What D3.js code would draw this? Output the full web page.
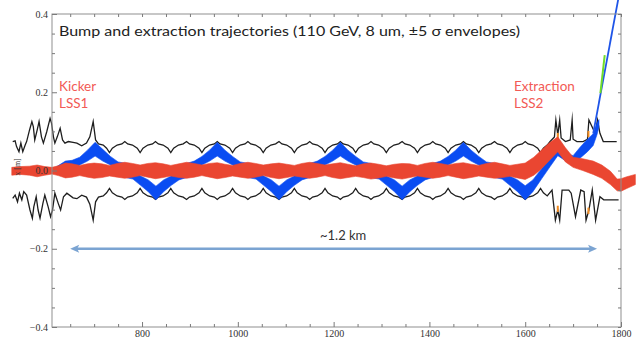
<!DOCTYPE html>
<html>
<head>
<meta charset="utf-8">
<script src="https://cdn.jsdelivr.net/npm/d3@7"></script>
<style>
  body { margin: 0; background: #fff; }
  svg { display: block; }
</style>
</head>
<body>
<svg id="chart" width="637" height="343"></svg>
<script>
// ---- data (s in m, x in m) ----
const xTicks = [800, 1000, 1200, 1400, 1600, 1800];
const xMinor = [650, 700, 750, 850, 900, 950, 1050, 1100, 1150, 1250, 1300, 1350, 1450, 1500, 1550, 1650, 1700, 1750];
const yTicks = [-0.4, -0.2, 0, 0.2, 0.4];
const yMinor = [-0.35, -0.3, -0.25, -0.15, -0.1, -0.05, 0.05, 0.1, 0.15, 0.25, 0.3, 0.35];

// upper black line
const apertureTop = [
  [530,.074],[535,.076],[538,.061],[543,.048],[547,.070],[551,.048],[556,.065],[559,.074],[565,.103],[570,.125],
  [573,.112],[576,.078],[581,.103],[585,.125],[590,.086],[594,.070],[601,.099],[608,.133],[611,.121],[615,.086],
  [618,.070],[623,.086],[629,.108],[634,.078],[639,.070],[646,.074],[656,.072],[664,.070],[674,.063],[684,.070],
  [691,.086],[698,.125],[703,.078],[709,.068],[719,.065],[726,.057],[732,.046],[738,.057],[748,.065],[758,.068],
  [764,.074],[770,.068],[780,.065],[790,.057],[796,.046],[802,.057],[812,.065],[822,.068],
  [828,.074],[834,.068],[844,.065],[854,.057],[860,.046],[866,.057],[876,.065],[886,.068],
  [893,.074],[899,.068],[909,.065],[919,.057],[925,.046],[931,.057],[941,.065],[951,.068],
  [957,.074],[963,.068],[973,.065],[983,.057],[989,.046],[995,.057],[1005,.065],[1015,.068],
  [1021,.074],[1027,.068],[1037,.065],[1047,.057],[1053,.046],[1059,.057],[1069,.065],[1079,.068],
  [1086,.074],[1092,.068],[1102,.065],[1112,.057],[1118,.046],[1124,.057],[1134,.065],[1144,.068],
  [1150,.074],[1156,.068],[1166,.065],[1176,.057],[1182,.046],[1188,.057],[1198,.065],[1208,.068],
  [1214,.074],[1220,.068],[1230,.065],[1240,.057],[1246,.046],[1252,.057],[1262,.065],[1272,.068],
  [1278,.074],[1284,.068],[1294,.065],[1304,.057],[1310,.046],[1316,.057],[1326,.065],[1336,.068],
  [1343,.074],[1349,.068],[1359,.065],[1369,.057],[1375,.046],[1381,.057],[1391,.065],[1401,.068],
  [1407,.074],[1413,.068],[1423,.065],[1433,.057],[1439,.046],[1445,.057],[1455,.065],[1465,.068],
  [1471,.074],[1477,.068],[1487,.065],[1497,.057],[1503,.046],[1509,.057],[1519,.065],[1529,.068],
  [1536,.074],[1542,.068],[1552,.065],[1562,.057],[1568,.046],[1574,.057],[1584,.065],[1594,.068],
  [1600,.074],[1606,.068],[1616,.065],[1626,.057],[1632,.046],[1638,.057],[1646,.065],
  [1652,.074],[1661,.086],[1664,.129],[1668,.091],[1672,.129],[1675,.083],[1684,.074],[1694,.078],[1698,.129],
  [1700,.080],[1708,.074],[1721,.074],[1730,.080],[1733,.129],[1746,.095],[1751,.129],[1756,.095],[1763,.074],[1791,.074]
];

// lower black line
const apertureBottom = [
  [530,-.071],[535,-.063],[540,-.080],[544,-.058],[549,-.075],[553,-.054],[559,-.063],[566,-.101],[571,-.122],
  [574,-.093],[579,-.067],[583,-.101],[587,-.122],[593,-.084],[597,-.063],[604,-.093],[609,-.118],[613,-.101],
  [618,-.058],[625,-.084],[630,-.101],[636,-.067],[643,-.058],[656,-.070],[664,-.072],[674,-.063],[684,-.068],
  [691,-.086],[698,-.127],[703,-.080],[709,-.068],[719,-.065],[726,-.057],[732,-.046],[738,-.057],[748,-.065],[758,-.068],
  [764,-.074],[770,-.068],[780,-.065],[790,-.057],[796,-.046],[802,-.057],[812,-.065],[822,-.068],
  [828,-.074],[834,-.068],[844,-.065],[854,-.057],[860,-.046],[866,-.057],[876,-.065],[886,-.068],
  [893,-.074],[899,-.068],[909,-.065],[919,-.057],[925,-.046],[931,-.057],[941,-.065],[951,-.068],
  [957,-.074],[963,-.068],[973,-.065],[983,-.057],[989,-.046],[995,-.057],[1005,-.065],[1015,-.068],
  [1021,-.074],[1027,-.068],[1037,-.065],[1047,-.057],[1053,-.046],[1059,-.057],[1069,-.065],[1079,-.068],
  [1086,-.074],[1092,-.068],[1102,-.065],[1112,-.057],[1118,-.046],[1124,-.057],[1134,-.065],[1144,-.068],
  [1150,-.074],[1156,-.068],[1166,-.065],[1176,-.057],[1182,-.046],[1188,-.057],[1198,-.065],[1208,-.068],
  [1214,-.074],[1220,-.068],[1230,-.065],[1240,-.057],[1246,-.046],[1252,-.057],[1262,-.065],[1272,-.068],
  [1278,-.074],[1284,-.068],[1294,-.065],[1304,-.057],[1310,-.046],[1316,-.057],[1326,-.065],[1336,-.068],
  [1343,-.074],[1349,-.068],[1359,-.065],[1369,-.057],[1375,-.046],[1381,-.057],[1391,-.065],[1401,-.068],
  [1407,-.074],[1413,-.068],[1423,-.065],[1433,-.057],[1439,-.046],[1445,-.057],[1455,-.065],[1465,-.068],
  [1471,-.074],[1477,-.068],[1487,-.065],[1497,-.057],[1503,-.046],[1509,-.057],[1519,-.065],[1529,-.068],
  [1536,-.074],[1542,-.068],[1552,-.065],[1562,-.057],[1568,-.046],[1574,-.057],[1584,-.065],[1594,-.068],
  [1600,-.074],[1606,-.068],[1616,-.065],[1626,-.057],[1632,-.046],[1638,-.057],[1646,-.065],
  [1656,-.050],[1663,-.127],[1668,-.101],[1672,-.127],[1677,-.050],[1691,-.050],[1696,-.058],[1705,-.118],
  [1716,-.050],[1723,-.054],[1727,-.127],[1733,-.101],[1740,-.050],[1747,-.127],[1756,-.067],[1764,-.075],[1795,-.075]
];

// bumped beam envelope [s, low, high]
const bumpBand = [
  [622,-.010,.010],[640,-.004,.024],[654,-.002,.026],[670,.014,.034],[686,.024,.052],[702,.037,.072],
  [718,.024,.054],[734,.014,.036],[750,-.004,.022],[766,-.018,.018],
  [781,-.022,.004],[797,-.038,-.014],[813,-.054,-.024],[829,-.075,-.040],[845,-.054,-.024],[861,-.038,-.014],[877,-.024,.004],[893,-.018,.018],
  [909,-.004,.024],[925,.014,.036],[941,.024,.052],[957,.037,.072],[973,.024,.052],[989,.014,.036],[1005,-.004,.022],[1021,-.018,.018],
  [1038,-.022,.004],[1054,-.038,-.014],[1070,-.054,-.024],[1086,-.075,-.040],[1102,-.054,-.024],[1118,-.038,-.014],[1134,-.024,.004],[1150,-.018,.018],
  [1166,-.004,.024],[1182,.014,.036],[1198,.024,.052],[1214,.037,.072],[1230,.024,.052],[1246,.014,.036],[1262,-.004,.022],[1278,-.018,.018],
  [1295,-.022,.004],[1311,-.038,-.014],[1327,-.054,-.024],[1343,-.075,-.040],[1359,-.054,-.024],[1375,-.038,-.014],[1391,-.024,.004],[1407,-.018,.018],
  [1423,-.004,.024],[1439,.014,.036],[1455,.024,.052],[1471,.037,.072],[1487,.024,.052],[1503,.014,.036],[1519,-.004,.022],[1536,-.018,.018],
  [1552,-.022,.004],[1568,-.038,-.014],[1584,-.054,-.024],[1600,-.075,-.039],
  [1616,-.054,-.024],[1635,-.020,.006],[1652,.010,.034],[1668,.038,.056],[1685,.024,.044],[1700,.018,.038],
  [1715,.032,.060],[1730,.048,.080],[1742,.064,.094],[1750,.092,.122],[1754,.112,.130]
];

// extracted trajectory (thin line)
const extractionLine = [[1742,.095],[1797,.456]];
// septum segment (green)
const septumLine = [[1757,.198],[1766,.295]];
// orange aperture marks [s, v1, v2]
const orangeMarks = [[1668,.080,.096],[1668,-.090,-.106],[1732,.085,.101],[1732,-.095,-.111]];

// circulating beam envelope [s, low, high]
const beamBand = [
  [528,-.012,.008],[545,-.010,.010],[565,-.012,.011],[581,-.016,.014],[597,-.012,.010],[612,-.009,.008],
  [625,-.013,.012],[640,-.019,.019],[654,-.017,.017],[670,-.013,.013],[686,-.017,.017],[700,-.020,.019],
  [716,-.018,.017],[732,-.014,.013],[748,-.017,.018],
  [764,-.020,.021],[780,-.017,.018],[796,-.013,.014],[812,-.017,.018],
  [828,-.021,.020],[844,-.018,.017],[860,-.014,.013],[877,-.018,.017],
  [893,-.020,.021],[909,-.017,.018],[925,-.013,.014],[941,-.017,.018],
  [957,-.021,.020],[973,-.018,.016],[989,-.014,.013],[1005,-.017,.018],
  [1021,-.020,.021],[1037,-.017,.018],[1053,-.013,.014],[1070,-.018,.017],
  [1086,-.021,.019],[1102,-.018,.016],[1118,-.014,.013],[1134,-.017,.018],
  [1150,-.020,.021],[1166,-.017,.018],[1182,-.013,.014],[1198,-.018,.017],
  [1214,-.021,.020],[1230,-.018,.016],[1246,-.015,.012],[1262,-.018,.017],
  [1278,-.022,.019],[1294,-.019,.016],[1310,-.015,.012],[1327,-.019,.016],
  [1343,-.022,.018],[1359,-.018,.017],[1375,-.014,.013],[1391,-.017,.018],
  [1407,-.020,.021],[1423,-.017,.018],[1439,-.013,.014],[1455,-.017,.018],
  [1471,-.021,.020],[1487,-.018,.016],[1503,-.014,.013],[1519,-.017,.018],
  [1536,-.020,.021],[1552,-.018,.017],[1568,-.015,.013],[1584,-.019,.016],
  [1600,-.023,.019],[1618,-.012,.034],[1632,.002,.050],[1650,.025,.070],[1668,.048,.086],[1684,.022,.058],
  [1700,.008,.034],[1720,.000,.030],[1742,-.010,.024],[1760,-.020,.014],[1778,-.036,-.002],[1792,-.052,-.022],
  [1800,-.053,-.021],[1812,-.046,-.016],[1830,-.036,-.010]
];

const arrowSpan = [650, 1750];
const arrowLevel = -0.2;

// ---- layout ----
const svg = d3.select('#chart');
const x = d3.scaleLinear().domain([612, 1800]).range([52, 621]);
const y = d3.scaleLinear().domain([-0.4, 0.4]).range([327, 14]);

svg.append('rect').attr('width', 637).attr('height', 343).attr('fill', '#fff');

const line = d3.line().x(d => x(d[0])).y(d => y(d[1]));
const band = d3.area().x(d => x(d[0])).y0(d => y(d[1])).y1(d => y(d[2]));

// black envelopes
[apertureTop, apertureBottom].forEach(series => {
  svg.append('path')
    .attr('d', line(series))
    .attr('fill', 'none')
    .attr('stroke', '#1e1e1e')
    .attr('stroke-width', 1.3)
    .attr('stroke-linejoin', 'miter')
    .attr('stroke-miterlimit', 20);
});

// orange marks
svg.selectAll('.om')
  .data(orangeMarks)
  .enter()
  .append('line')
    .attr('x1', d => x(d[0])).attr('x2', d => x(d[0]))
    .attr('y1', d => y(d[1])).attr('y2', d => y(d[2]))
    .attr('stroke', '#f08a20')
    .attr('stroke-width', 2);

// blue bump envelope
svg.append('path')
  .attr('d', band(bumpBand))
  .attr('fill', '#0a4cf2')
  .attr('stroke', '#0a4cf2')
  .attr('stroke-width', 0.6);

svg.append('path')
  .attr('d', line(extractionLine))
  .attr('fill', 'none')
  .attr('stroke', '#1f55e8')
  .attr('stroke-width', 1.8);

// red circulating beam
svg.append('path')
  .attr('d', band(beamBand))
  .attr('fill', '#ea4631')
  .attr('stroke', '#ea4631')
  .attr('stroke-width', 0.6);

// green septum
svg.append('path')
  .attr('d', line(septumLine))
  .attr('fill', 'none')
  .attr('stroke', '#6fdc2a')
  .attr('stroke-width', 2);

// ---- axes / frame ----
svg.append('rect')
  .attr('x', x(612)).attr('y', y(0.4))
  .attr('width', x(1800) - x(612)).attr('height', y(-0.4) - y(0.4))
  .attr('fill', 'none')
  .attr('stroke', '#8f8f8f')
  .attr('stroke-width', 1);

function styleAxis(g) {
  g.select('.domain').remove();
  g.selectAll('.tick line').attr('stroke', '#7a7a7a');
  g.selectAll('.tick text')
    .attr('fill', '#333')
    .style('font-family', '"Liberation Serif", serif')
    .style('font-size', '10px');
}

svg.append('g')
  .attr('transform', 'translate(0,' + y(-0.4) + ')')
  .call(d3.axisBottom(x).tickValues(xTicks).tickSize(-5).tickPadding(3).tickFormat(d3.format('d')))
  .call(styleAxis);
svg.append('g')
  .attr('transform', 'translate(0,' + y(-0.4) + ')')
  .call(d3.axisBottom(x).tickValues(xMinor).tickSize(-3).tickFormat(''))
  .call(styleAxis);
svg.append('g')
  .attr('transform', 'translate(0,' + y(0.4) + ')')
  .call(d3.axisTop(x).tickValues(xTicks.concat(xMinor)).tickSize(-3).tickFormat(''))
  .call(styleAxis);

svg.append('g')
  .attr('transform', 'translate(' + x(612) + ',0)')
  .call(d3.axisLeft(y).tickValues(yTicks).tickSize(-5).tickPadding(4).tickFormat(d3.format('.1f')))
  .call(styleAxis);
svg.append('g')
  .attr('transform', 'translate(' + x(612) + ',0)')
  .call(d3.axisLeft(y).tickValues(yMinor).tickSize(-3).tickFormat(''))
  .call(styleAxis);
svg.append('g')
  .attr('transform', 'translate(' + x(1800) + ',0)')
  .call(d3.axisRight(y).tickValues(yTicks.concat(yMinor)).tickSize(-3).tickFormat(''))
  .call(styleAxis);

// y axis label
svg.append('text')
  .attr('transform', 'translate(20,167) rotate(-90)')
  .attr('text-anchor', 'middle')
  .style('font-family', '"Liberation Serif", serif')
  .style('font-size', '8px')
  .attr('fill', '#333')
  .text('x [m]');

// ---- annotations ----
svg.append('text')
  .attr('x', 59).attr('y', 36)
  .attr('textLength', 461).attr('lengthAdjust', 'spacingAndGlyphs')
  .style('font-family', 'Lato, sans-serif')
  .style('font-size', '13px')
  .attr('fill', '#222')
  .text('Bump and extraction trajectories (110 GeV, 8 um, \u00b15 \u03c3 envelopes)');

const red = '#f25a55';
[['Kicker', 59, 91], ['LSS1', 59, 108], ['Extraction', 514, 91], ['LSS2', 514, 108]].forEach(t => {
  svg.append('text')
    .attr('x', t[1]).attr('y', t[2])
    .style('font-family', 'Lato, sans-serif')
    .style('font-size', '13.5px')
    .attr('fill', red)
    .text(t[0]);
});

// distance arrow
const arrowColor = '#7ba4d2';
const ax0 = x(arrowSpan[0]), ax1 = x(arrowSpan[1]), ay = y(arrowLevel);
svg.append('line')
  .attr('x1', ax0 + 6).attr('x2', ax1 - 6)
  .attr('y1', ay).attr('y2', ay)
  .attr('stroke', arrowColor)
  .attr('stroke-width', 2.4);
svg.append('path')
  .attr('d', `M${ax0},${ay} L${ax0 + 9},${ay - 4} L${ax0 + 7},${ay} L${ax0 + 9},${ay + 4} Z`)
  .attr('fill', arrowColor);
svg.append('path')
  .attr('d', `M${ax1},${ay} L${ax1 - 9},${ay - 4} L${ax1 - 7},${ay} L${ax1 - 9},${ay + 4} Z`)
  .attr('fill', arrowColor);
svg.append('text')
  .attr('x', 320).attr('y', 240)
  .style('font-family', 'Lato, sans-serif')
  .style('font-size', '13px')
  .attr('fill', '#333')
  .text('~1.2 km');
</script>
</body>
</html>
